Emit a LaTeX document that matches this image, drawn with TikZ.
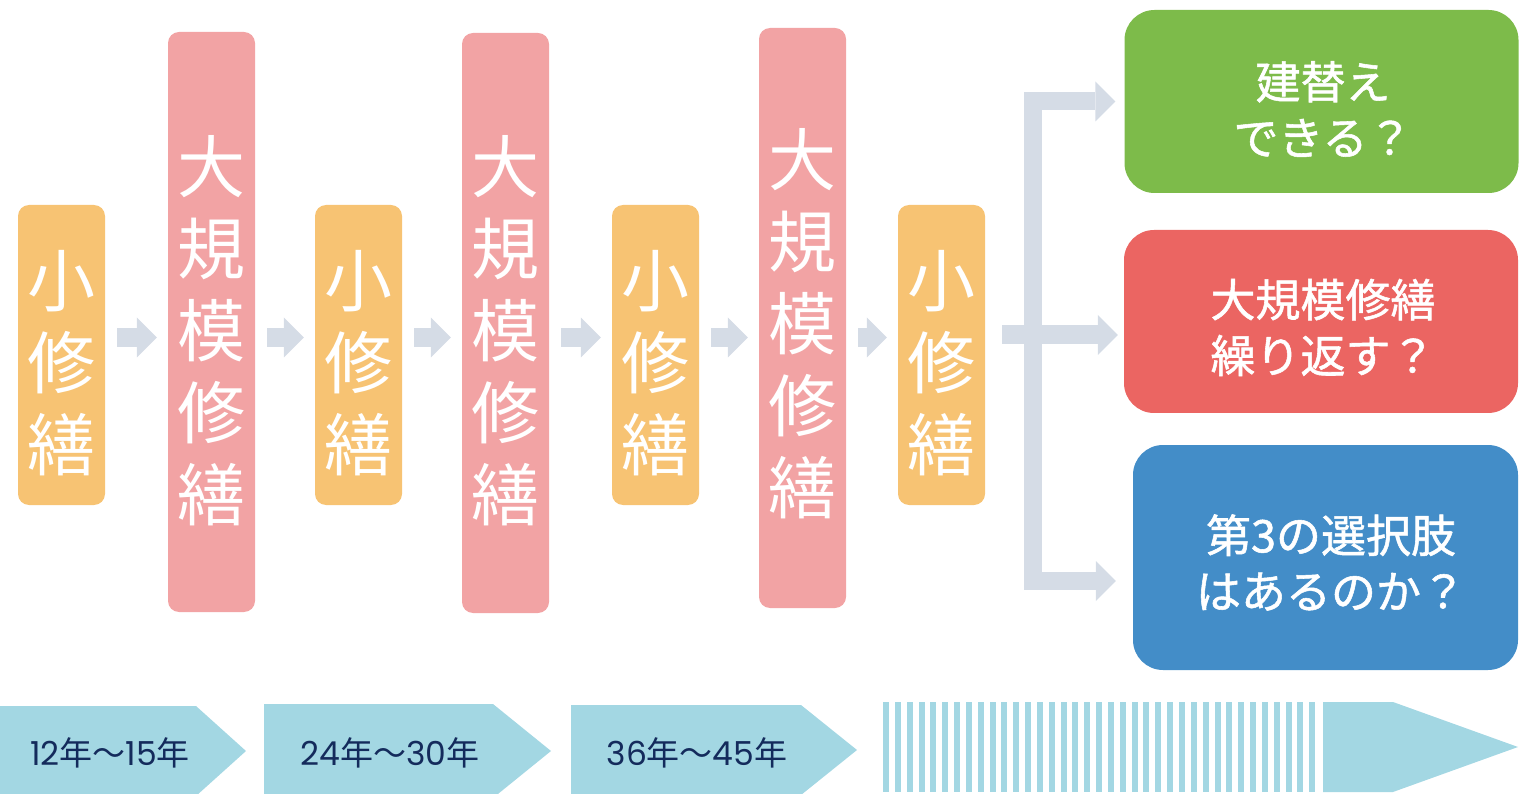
\documentclass[tikz,border=0pt]{standalone}
\usepackage{fontspec}
\setmainfont{Noto Sans CJK JP}
\newfontfamily\medfont[FakeBold=1.2]{Noto Sans CJK JP}
\newfontfamily\digfont{Poppins}
\newcommand{\dg}[1]{{\digfont #1}}
\usetikzlibrary{arrows.meta,calc}
\definecolor{smallc}{HTML}{F7C373}
\definecolor{bigc}{HTML}{F2A3A4}
\definecolor{flowc}{HTML}{D5DCE6}
\definecolor{greenc}{HTML}{7DBB4A}
\definecolor{redc}{HTML}{EB6562}
\definecolor{bluec}{HTML}{438DC8}
\definecolor{timec}{HTML}{A3D7E3}
\definecolor{navyc}{HTML}{142B5C}
\begin{document}
\begin{tikzpicture}[x=1pt,y=-1pt,
  smallbox/.style={fill=smallc, rounded corners=11pt, minimum width=87pt, minimum height=300pt, inner sep=0pt},
  bigbox/.style={fill=bigc, rounded corners=11pt, minimum width=87pt, minimum height=580pt, inner sep=0pt},
  vtext/.style={text=white, font=\fontsize{68}{82}\selectfont, align=center, inner sep=0pt},
  choice/.style={rounded corners=30pt, inner sep=0pt},
  ctext/.style={text=white, font=\medfont\fontsize{45}{56}\selectfont, align=center, inner sep=0pt},
  ttext/.style={text=navyc, font=\fontsize{33}{40}\selectfont, inner sep=0pt},
  flow/.style={draw=flowc, line width=19pt, line cap=butt,
    -{Triangle[length=20pt 0 0, width=40pt 0 0, line width=0pt]},
    shorten <=12pt, shorten >=11pt},
  branch/.style={draw=flowc, line width=18pt, line cap=butt, line join=miter,
    {Triangle[length=20pt 0 0, width=40pt 0 0, line width=0pt]}-{Triangle[length=20pt 0 0, width=40pt 0 0, line width=0pt]}},
  tline/.style={fill=timec}
]
\useasboundingbox (0,0) rectangle (1519,794);

% maintenance boxes
\node[smallbox] (s1) at (61.5,355) {};
\node[bigbox]   (l1) at (211.5,322) {};
\node[smallbox] (s2) at (358.5,355) {};
\node[bigbox]   (l2) at (505.5,323) {};
\node[smallbox] (s3) at (655.5,355) {};
\node[bigbox]   (l3) at (802.5,318) {};
\node[smallbox] (s4) at (941.5,355) {};

\node[vtext] (s1t) at ($(s1)+(0,8)$) {小\\修\\繕};
\node[vtext] (s2t) at ($(s2)+(0,8)$) {小\\修\\繕};
\node[vtext] (s3t) at ($(s3)+(0,8)$) {小\\修\\繕};
\node[vtext] (s4t) at ($(s4)+(0,8)$) {小\\修\\繕};
\node[vtext] (l1t) at ($(l1)+(0,9)$) {大\\規\\模\\修\\繕};
\node[vtext] (l2t) at ($(l2)+(0,8)$) {大\\規\\模\\修\\繕};
\node[vtext] (l3t) at ($(l3)+(0,6)$) {大\\規\\模\\修\\繕};

% flow arrows
\coordinate (fy) at (0,337.5);
\draw[flow] (s1.east |- fy) -- (l1.west |- fy);
\draw[flow] (l1.east |- fy) -- (s2.west |- fy);
\draw[flow] (s2.east |- fy) -- (l2.west |- fy);
\draw[flow] (l2.east |- fy) -- (s3.west |- fy);
\draw[flow] (s3.east |- fy) -- (l3.west |- fy);
\draw[flow] (l3.east |- fy) -- (s4.west |- fy);

% choices
\node[choice, fill=greenc, minimum width=394pt, minimum height=183pt] (g) at (1321.5,101.5) {};
\node[choice, fill=redc,   minimum width=394pt, minimum height=183pt] (r) at (1321,321.5) {};
\node[choice, fill=bluec,  minimum width=385pt, minimum height=225pt] (b) at (1325.5,557.5) {};
\node[ctext] (gt) at (1323,109) {建替え\\できる？};
\node[ctext] (rt) at (1323,327.5) {大規模修繕\\繰り返す？};
\node[ctext] (bt) at (1331,562.5) {第3の選択肢\\はあるのか？};

% branch connector
\coordinate (t1) at ([xshift=-9pt]g.west);
\coordinate (t2) at ($(r.west)+(-6,13.5)$);
\coordinate (t3) at ($(b.west)+(-17,23.5)$);
\coordinate (bar) at (1033,0);
\draw[branch] (t1) -| (bar |- t3) -- (t3);
\draw[flow, shorten <=17pt, shorten >=0pt] (s4.east |- t2) -- (t2);

% timeline
\fill[tline] (0,706) -- (196,706) -- (246,751) -- (196,796) -- (0,796) -- cycle;
\fill[tline] (264,704) -- (493,704) -- (551,751) -- (493,798) -- (264,798) -- cycle;
\fill[tline] (571,705) -- (801,705) -- (857,750) -- (801,795) -- (571,795) -- cycle;
\foreach \i in {0,...,36}
  \fill[tline] (883+11.84*\i,702) rectangle ++(6,90);
\fill[tline] (1323,702) -- (1393,702) -- (1518,747) -- (1393,792) -- (1323,792) -- cycle;
\node[ttext] (y1) at (110,753) {\dg{12}年～\dg{15}年};
\node[ttext] (y2) at (390,753) {\dg{24}年～\dg{30}年};
\node[ttext] (y3) at (697,753) {\dg{36}年～\dg{45}年};
\end{tikzpicture}
\end{document}
